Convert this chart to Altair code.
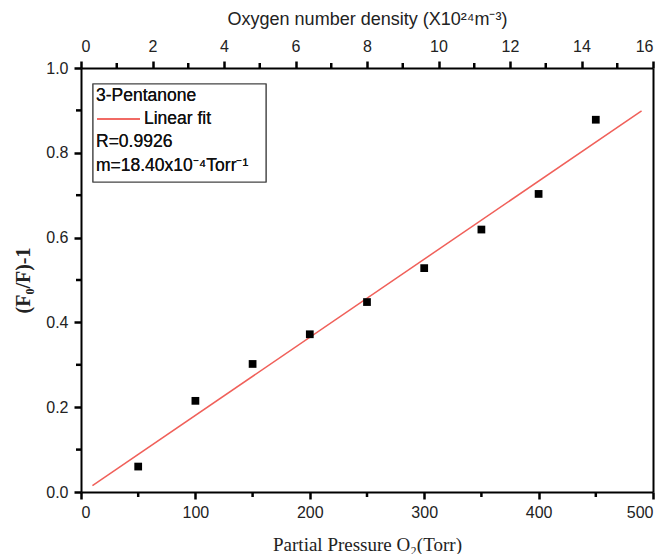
import altair as alt
import pandas as pd

# data
pressure = [50, 100, 150, 200, 250, 300, 350, 400, 450]
ratio = [0.060, 0.215, 0.302, 0.372, 0.448, 0.528, 0.619, 0.703, 0.878]
fit_pressure = [10, 490]
fit_ratio = [0.015, 0.899]
x_major = [0, 100, 200, 300, 400, 500]
x_minor = [50, 150, 250, 350, 450]
y_major = [0.0, 0.2, 0.4, 0.6, 0.8, 1.0]
y_minor = [0.1, 0.3, 0.5, 0.7, 0.9]
top_major = [0, 2, 4, 6, 8, 10, 12, 14, 16]
top_minor = [1, 3, 5, 7, 9, 11, 13, 15]
legend_lines = ["3-Pentanone", "Linear fit", "R=0.9926", "m=18.40x10\u207b\u2074Torr\u207b\u00b9"]

pts = pd.DataFrame({"p": pressure, "r": ratio})
fit = pd.DataFrame({"p": fit_pressure, "r": fit_ratio})
xmin_df = pd.DataFrame({"p": x_minor})
ymin_df = pd.DataFrame({"r": y_minor})
top_df = pd.DataFrame({"d": top_major, "r": [0.0] * len(top_major)})
topmin_df = pd.DataFrame({"d": top_minor})

SANS = "Liberation Sans"
SERIF = "Liberation Serif"
AX = "#000000"
RED = "#f0605a"

x_scale = alt.Scale(domain=[0, 500], nice=False, zero=False)
y_scale = alt.Scale(domain=[0, 1.0], nice=False, zero=False)
d_scale = alt.Scale(domain=[0, 16], nice=False, zero=False)

common_axis = dict(
    domainColor=AX, domainWidth=2, domainOpacity=1, tickColor=AX, tickWidth=2.5,
    tickOpacity=1, tickSize=7, tickRound=True,
    labelFont=SANS, labelFontSize=16, labelColor="#222222", grid=False,
    titleColor="#222222",
)

x_axis = alt.Axis(
    orient="bottom", values=x_major, title="Partial Pressure O\u2082(Torr)",
    labelPadding=5, titleFont=SERIF, titleFontSize=19, titleFontWeight="normal",
    titlePadding=15, **common_axis,
)
y_axis = alt.Axis(
    orient="left", values=y_major, title="(F\u2080/F)-1", format=".1f",
    labelPadding=6, titleFont=SERIF, titleFontSize=20, titleFontWeight="bold",
    titlePadding=12, **common_axis,
)
top_axis = alt.Axis(
    orient="top", values=top_major, title="Oxygen number density (X10\u00b2\u2074m\u207b\u00b3)",
    labelPadding=7, titleFont=SANS, titleFontSize=18, titleFontWeight="normal",
    titlePadding=10, **common_axis,
)
right_axis = alt.Axis(
    orient="right", values=y_major, labels=False, ticks=False, title=None,
    domainColor=AX, domainWidth=2, grid=False,
)

X = alt.X("p:Q", scale=x_scale, axis=x_axis)
Y = alt.Y("r:Q", scale=y_scale, axis=y_axis)

points = alt.Chart(pts).mark_square(size=60, color="black", opacity=1).encode(x=X, y=Y)
line = alt.Chart(fit).mark_line(color=RED, strokeWidth=1.5).encode(x=X, y=Y)

# minor ticks, positioned through the scales
xminor = alt.Chart(xmin_df).mark_rule(color=AX, strokeWidth=2.5).encode(
    x=alt.X("p:Q", scale=x_scale, axis=x_axis), y=alt.value(424), y2=alt.value(429)
)
yminor = alt.Chart(ymin_df).mark_rule(color=AX, strokeWidth=2.5).encode(
    y=alt.Y("r:Q", scale=y_scale, axis=y_axis), x=alt.value(0), x2=alt.value(-5)
)

box = alt.Chart(fit).mark_rect(fill="white", stroke="#444444", strokeWidth=1.2).encode(
    x=alt.value(12), x2=alt.value(185), y=alt.value(16), y2=alt.value(114)
)
leg_line = alt.Chart(fit).mark_rule(color=RED, strokeWidth=1.5).encode(
    x=alt.value(16), x2=alt.value(59), y=alt.value(51)
)
text_y = [28, 51, 74, 98]
text_x = [15, 63, 15, 15]
texts = [
    alt.Chart(fit).mark_text(
        text=t, align="left", baseline="middle", font=SANS, fontSize=17.5, color="#111111"
    ).encode(x=alt.value(tx), y=alt.value(ty))
    for t, tx, ty in zip(legend_lines, text_x, text_y)
]

main = alt.layer(line, points, xminor, yminor, box, leg_line, *texts)

D = alt.X("d:Q", scale=d_scale, axis=top_axis)
frame = alt.Chart(top_df).mark_point(opacity=0).encode(
    x=D,
    y=alt.Y("r:Q", scale=alt.Scale(domain=[0, 1], nice=False), axis=right_axis),
)
topminor = alt.Chart(topmin_df).mark_rule(color=AX, strokeWidth=2.5).encode(
    x=D, y=alt.value(0), y2=alt.value(-5)
)
top_layer = alt.layer(frame, topminor)

chart = alt.layer(main, top_layer).resolve_scale(x="independent", y="independent").properties(
    width=572, height=424,
    autosize=alt.AutoSizeParams(type="none"),
    padding={"left": 73, "top": 60, "right": 7, "bottom": 62},
    background="white",
).configure_view(strokeWidth=0)

chart.save("out.html", embed_options={"renderer": "svg", "actions": False})
